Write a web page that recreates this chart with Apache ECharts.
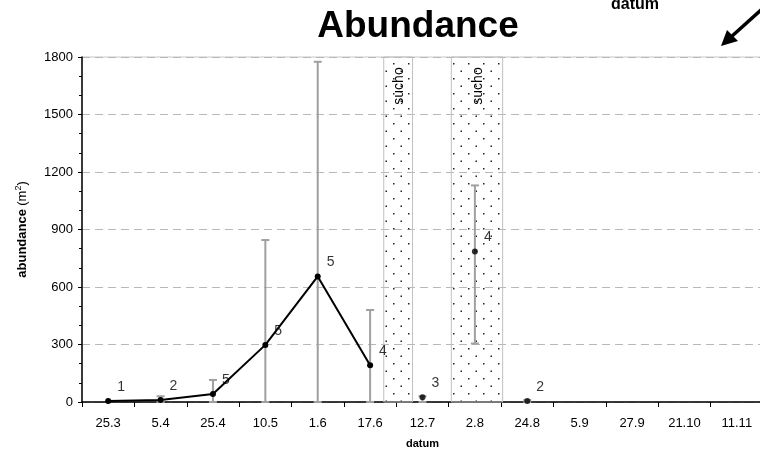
<!DOCTYPE html>
<html>
<head>
<meta charset="utf-8">
<script src="https://cdn.jsdelivr.net/npm/echarts@6/dist/echarts.min.js"></script>
<style>html,body{margin:0;padding:0;background:#fff}#c{width:760px;height:450px}</style>
</head>
<body>
<div id="c"></div>
<script>
// ---- data ----
const categories = ['25.3','5.4','25.4','10.5','1.6','17.6','12.7','2.8','24.8','5.9','27.9','21.10','11.11'];
const lineValues  = [5, 10, 42, 298, 655, 192, null, null, null, null, null, null, null];
const pointValues = [null, null, null, null, null, null, 25, 785, 5, null, null, null, null];
const countLabels = ['1','2','5','5','5','4','3','4','2', null, null, null, null];
const errLow  = [null, 0, 0, 0, 0, 0, 0, 305, 0, null, null, null, null];
const errHigh = [null, 30, 115, 845, 1775, 480, 30, 1130, 10, null, null, null, null];
const droughtStart = [5.76, 7.05];   // in category-width units from the left edge
const droughtEnd   = [6.31, 8.03];
const droughtText  = ['sucho', 'sucho'];
const yTicks = { min: 0, max: 1800, interval: 300 };

// ---- pattern ----
const pc = document.createElement('canvas');
pc.width = 15; pc.height = 15;
const ctx = pc.getContext('2d');
ctx.fillStyle = '#222';
ctx.fillRect(3, 3, 1.5, 1.5);
ctx.fillRect(10.5, 10.5, 1.5, 1.5);

const FONT = 'Liberation Sans, Arial, sans-serif';
const chart = echarts.init(document.getElementById('c'), null, {renderer: 'canvas'});

const meanSeriesData = categories.map((c, i) => {
  const v = lineValues[i] != null ? lineValues[i] : pointValues[i];
  return v;
});

chart.setOption({
  animation: false,
  backgroundColor: '#fff',
  title: {
    text: 'Abundance', left: 413, top: 3, textAlign: 'center',
    textStyle: { fontFamily: FONT, fontSize: 37, fontWeight: 'bold', color: '#000' }
  },
  grid: { left: 82, top: 57, width: 681, height: 345, show: true, borderColor: '#c8c8c8', borderWidth: 1,
          backgroundColor: 'transparent', containLabel: false, outerBoundsMode: 'none' },
  xAxis: [{
    type: 'category', data: categories, boundaryGap: true,
    name: 'datum', nameLocation: 'middle', nameGap: 36,
    nameTextStyle: { fontFamily: FONT, fontSize: 11, fontWeight: 'bold', color: '#000' },
    axisLine: { lineStyle: { color: '#000', width: 1.5 } },
    axisTick: { show: true, length: 5, lineStyle: { color: '#000' }, alignWithLabel: false },
    axisLabel: { fontFamily: FONT, fontSize: 13, color: '#000', margin: 15, interval: 0 },
    splitLine: { show: false }
  }, {
    type: 'value', min: 0, max: 13, show: false
  }],
  yAxis: {
    type: 'value', min: yTicks.min, max: yTicks.max, interval: yTicks.interval,
    name: '{b|abundance} {n|(m}{s|2}{n|)}', nameLocation: 'middle', nameGap: 52, nameRotate: 90,
    nameTextStyle: { rich: {
      b: { fontFamily: FONT, fontSize: 13, fontWeight: 'bold', color: '#000' },
      n: { fontFamily: FONT, fontSize: 13, color: '#000' },
      s: { fontFamily: FONT, fontSize: 9, color: '#000', verticalAlign: 'top', padding: [0,0,7,0] }
    } },
    axisLine: { show: true, lineStyle: { color: '#000', width: 1.5 } },
    axisTick: { show: true, length: 4, lineStyle: { color: '#000' } },
    minorTick: { show: true, splitNumber: 3, length: 3, lineStyle: { color: '#000' } },
    axisLabel: { fontFamily: FONT, fontSize: 13, color: '#000', margin: 9, formatter: v => String(v) },
    splitLine: { show: true, lineStyle: { color: '#b8b8b8', type: [8, 5], width: 1 } }
  },
  series: [
    {
      type: 'custom', xAxisIndex: 1, z: 1, silent: true,
      data: droughtStart.map((s, i) => [s, droughtEnd[i], i]),
      renderItem: function (params, api) {
        const x0 = api.coord([api.value(0), yTicks.max]);
        const x1 = api.coord([api.value(1), yTicks.min]);
        const label = droughtText[api.value(2)];
        return {
          type: 'group',
          children: [{
            type: 'rect',
            shape: { x: x0[0], y: x0[1], width: x1[0] - x0[0], height: x1[1] - x0[1] },
            style: { fill: { image: pc, repeat: 'repeat' }, stroke: '#c0c0c0', lineWidth: 1 }
          }, {
            type: 'text',
            x: (x0[0] + x1[0]) / 2 + 1, y: x0[1] + 29,
            rotation: Math.PI / 2,
            style: { text: label, fontFamily: FONT, fontSize: 14, fill: '#000', align: 'center', verticalAlign: 'middle' }
          }]
        };
      }
    },
    {
      type: 'custom', z: 2, silent: true,
      data: categories.map((c, i) => [i, errLow[i], errHigh[i]]).filter(d => d[1] != null),
      renderItem: function (params, api) {
        const lo = api.coord([api.value(0), api.value(1)]);
        const hi = api.coord([api.value(0), api.value(2)]);
        const w = 4;
        const st = { stroke: '#a0a0a0', lineWidth: 2 };
        return {
          type: 'group',
          children: [
            { type: 'line', shape: { x1: lo[0], y1: lo[1], x2: hi[0], y2: hi[1] }, style: st },
            { type: 'line', shape: { x1: hi[0] - w, y1: hi[1], x2: hi[0] + w, y2: hi[1] }, style: st },
            { type: 'line', shape: { x1: lo[0] - w, y1: lo[1], x2: lo[0] + w, y2: lo[1] }, style: st }
          ]
        };
      }
    },
    {
      type: 'line', z: 3, data: lineValues, connectNulls: false,
      symbol: 'circle', symbolSize: 6,
      lineStyle: { color: '#000', width: 2 },
      itemStyle: { color: '#000' }
    },
    {
      type: 'scatter', z: 3, data: pointValues,
      symbol: 'circle', symbolSize: 6,
      itemStyle: { color: '#000' }
    },
    {
      type: 'scatter', z: 4, data: meanSeriesData, symbolSize: 0, silent: true,
      label: {
        show: true, position: 'right', offset: [4, -14],
        formatter: p => countLabels[p.dataIndex] || '',
        fontFamily: FONT, fontSize: 14, color: '#000'
      }
    }
  ],
  graphic: [
    { type: 'text', left: 611, top: -3, style: { text: 'datum', fontFamily: FONT, fontSize: 16, fontWeight: 'bold', fill: '#000' } },
    { type: 'line', shape: { x1: 762, y1: 9, x2: 731, y2: 37 }, style: { stroke: '#000', lineWidth: 3.5 } },
    { type: 'polygon', shape: { points: [[721, 46], [727, 30], [738, 41]] }, style: { fill: '#000' } }
  ]
});
</script>
</body>
</html>
